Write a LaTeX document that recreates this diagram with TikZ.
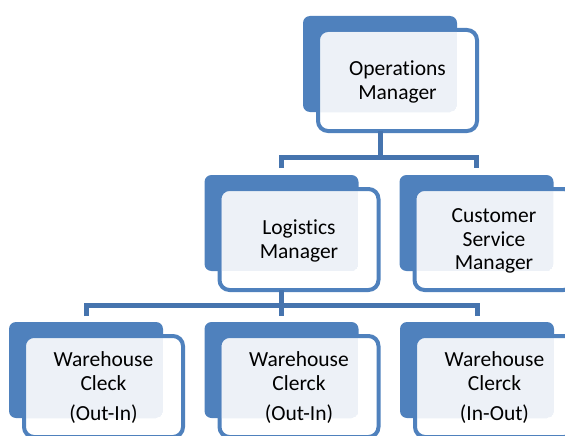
\documentclass[tikz,border=0pt]{standalone}
\usepackage{fontspec}
\setmainfont{Carlito}[Ligatures=NoCommon]
\usetikzlibrary{patterns.meta}
\definecolor{boxblue}{HTML}{4F81BD}
\definecolor{linkblue}{HTML}{4674AE}
\definecolor{dotblue}{HTML}{B4C6E0}
\tikzset{
  backbox/.style={shape=rectangle, fill=boxblue, rounded corners=7pt,
    minimum width=154pt, minimum height=96pt, inner sep=0pt, outer sep=0pt},
  frontbox/.style={shape=rectangle, draw=boxblue, fill=white, line width=4pt,
    rounded corners=10pt, minimum width=159pt, minimum height=101pt,
    inner sep=0pt, outer sep=0pt},
  boxtext/.style={align=center, font=\fontsize{21.5}{23.5}\selectfont, inner sep=0pt},
  dotfill/.style={pattern={Dots[distance=2pt, radius=0.6pt]}, pattern color=dotblue},
  link/.style={draw=linkblue, line width=5pt}
}
% #1 name, #2/#3 centre of the back card, #4 text
\newcommand\orgcard[4]{%
  \node[backbox] (#1b) at (#2,#3) {};
  \node[frontbox] (#1) at (#2+17.5,#3+16.5) {};
  \begin{scope}
    \clip[rounded corners=8pt] ([shift={(2pt,-2pt)}]#1.north west)
      rectangle ([shift={(-2pt,2pt)}]#1.south east);
    \fill[dotfill, rounded corners=7pt] (#1b.north west) rectangle (#1b.south east);
  \end{scope}
  \node[boxtext] (#1t) at ([yshift=-1.5pt]#1.center) {#4};
}
\begin{document}
\begin{tikzpicture}[x=1pt, y=-1pt]
  \path[use as bounding box] (0,0) rectangle (565,436);
  \clip (0,0) rectangle (565,436);

  \orgcard{ops}{380}{64}{Operations\\Manager}
  \orgcard{log}{281.5}{223}{Logistics\\Manager}
  \orgcard{cs}{476.5}{223}{Customer\\Service\\Manager}
  \orgcard{wa}{86}{370}{Warehouse\\Cleck\\[7pt](Out-In)}
  \orgcard{wb}{281.5}{370}{Warehouse\\Clerck\\[7pt](Out-In)}
  \orgcard{wc}{477}{370}{Warehouse\\Clerck\\[7pt](In-Out)}

  % upper level links
  \coordinate (bar1) at (0,157.5);
  \coordinate (end1) at (0,168);
  \draw[link] (opsb.center |- ops.south) -- (opsb.center |- bar1);
  \draw[link] (logb.north |- end1) -- (logb.north |- bar1)
    -- (csb.north |- bar1) -- (csb.north |- end1);

  % lower level links
  \coordinate (bar2) at (0,305);
  \coordinate (end2) at (0,316);
  \draw[link] (logb.center |- log.south) -- (logb.center |- bar2);
  \draw[link] (wab.north |- end2) -- (wab.north |- bar2)
    -- (wcb.north |- bar2) -- (wcb.north |- end2);
  \draw[link] (wbb.north |- bar2) -- (wbb.north |- end2);
\end{tikzpicture}
\end{document}
